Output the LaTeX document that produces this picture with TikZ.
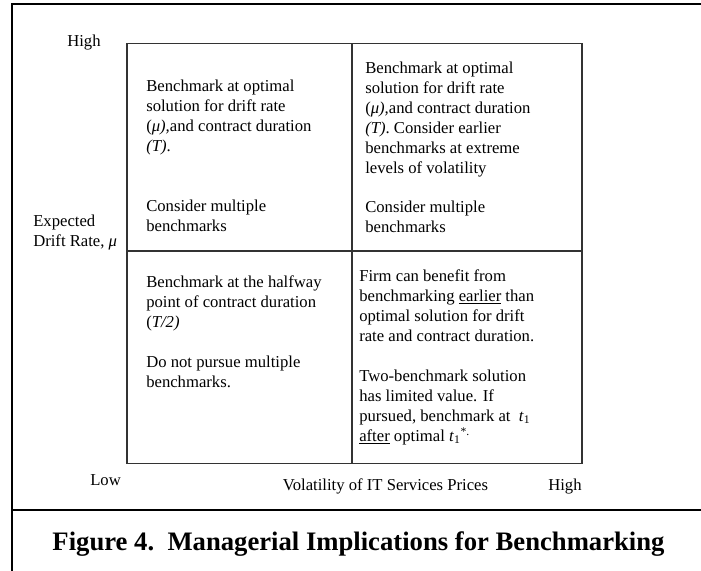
\documentclass[tikz,border=0pt]{standalone}
\usepackage{fontspec}
\setmainfont{Liberation Serif}
\usepackage{tikz}
\newcommand{\cellfont}{\fontsize{12.5}{15}\selectfont}

\begin{document}
\begin{tikzpicture}[x=0.75pt, y=-0.75pt, frame/.style={line width=2.2pt}, grid/.style={line width=1pt, black!80}, cell/.style={anchor=north west, align=left, inner sep=0pt, font=\cellfont, execute at begin node=\strut}, axis/.style={anchor=base west, inner sep=0pt, font=\cellfont}]
    \useasboundingbox (0,0) rectangle (701,571);

    \coordinate (nw) at (127,43.5);
    \coordinate (se) at (582,463.5);
    \coordinate (mid) at (352,251);

    \draw[frame] (701,4) -- (12,4) -- (12,571);
    \draw[frame] (12,510) -- (701,510);

    \draw[grid] (nw) rectangle (se);
    \draw[grid] (nw -| mid) -- (se -| mid);
    \draw[grid] (nw |- mid) -- (se |- mid);

    \node[cell] (tl) at (146,80) {Benchmark at optimal\\ solution for drift rate\\ (\textit{μ),}and contract duration\\ \textit{(T)}.\\[30pt] Consider multiple\\ benchmarks};
    \node[cell] (tr) at (365,61.7) {Benchmark at optimal\\ solution for drift rate\\ (\textit{μ),}and contract duration\\ \textit{(T)}. Consider earlier\\ benchmarks at extreme\\ levels of volatility\\[14pt] Consider multiple\\ benchmarks};
    \node[cell] (bl) at (146,275) {Benchmark at the halfway\\ point of contract duration\\ (\textit{T/2)}\\[15pt] Do not pursue multiple\\ benchmarks.};
    \node[cell] (br) at (359,269) {Firm can benefit from\\ benchmarking \underline{earlier} than\\ optimal solution for drift\\ rate and contract duration.\\[15pt] Two-benchmark solution\\ has limited value. If\\ pursued, benchmark at\ \ \textit{t}\textsubscript{1}\\ \underline{after} optimal \textit{t}\textsubscript{1}\textsuperscript{*.}};

    \node[axis] (muhigh) at (67,46) {High};
    \node[cell] (mulabel) at (33,215) {Expected\\ Drift Rate, \textit{μ}};
    \node[axis] (vollow) at (90,485) {Low};
    \node[axis, anchor=base] (vollabel) at (385.5,490) {Volatility of IT Services Prices};
    \node[axis] (volhigh) at (548,490) {High};

    \node[anchor=base, inner sep=0pt, font=\fontsize{20}{24}\selectfont\bfseries] (caption) at (358.5,550) {Figure 4.\ \ Managerial Implications for Benchmarking};
\end{tikzpicture}
\end{document}
